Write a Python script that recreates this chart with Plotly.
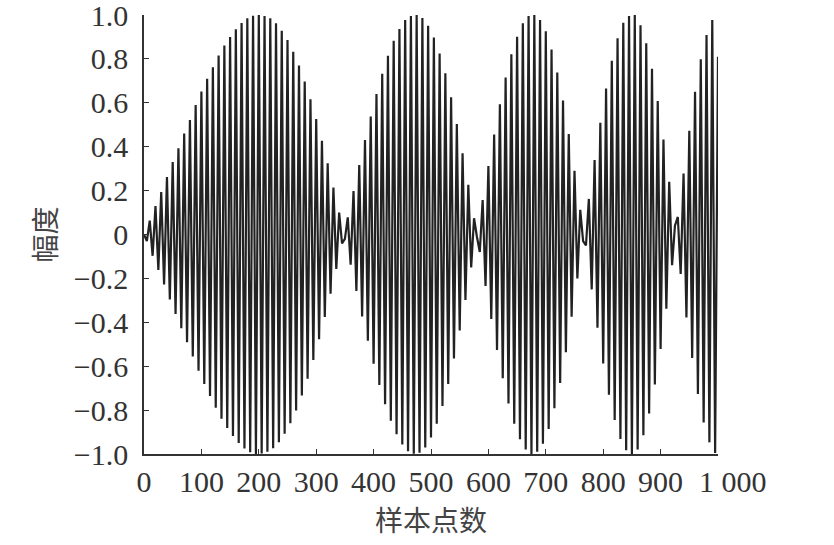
import plotly.graph_objects as go

# Signed peak/trough amplitudes, one every 5 samples
lobe1_start = 0
lobe1 = [0.0, -0.03, 0.063, -0.097, 0.13, -0.162, 0.193, -0.228, 0.262, -0.296,
         0.33, -0.362, 0.393, -0.427, 0.46, -0.491, 0.522, -0.556, 0.59, -0.621,
         0.652, -0.681, 0.71, -0.736, 0.762, -0.789, 0.816, -0.839, 0.861, -0.881,
         0.90, -0.918, 0.935, -0.95, 0.963, -0.975, 0.985, -0.992, 0.997, -1.0,
         1.0, -0.998, 0.995, -0.99, 0.985, -0.974, 0.962, -0.946, 0.928, -0.908,
         0.886, -0.86, 0.833, -0.802, 0.77, -0.734, 0.697, -0.657, 0.616, -0.572,
         0.526, -0.477, 0.427, -0.376, 0.324, -0.27, 0.214, -0.157, 0.10, -0.04,
         -0.02]
lobe2_start = 355
lobe2 = [0.078, -0.138, 0.198, -0.257, 0.316, -0.373, 0.43, -0.484, 0.537, -0.589,
         0.64, -0.686, 0.732, -0.773, 0.814, -0.849, 0.883, -0.91, 0.936, -0.957,
         0.977, -0.987, 0.995, -0.999, 1.0, -0.994, 0.986, -0.97, 0.951, -0.925,
         0.897, -0.862, 0.825, -0.781, 0.735, -0.681, 0.625, -0.565, 0.503, -0.437,
         0.37, -0.298, 0.226, -0.15, 0.074, -0.01]
lobe3_start = 585
lobe3 = [-0.08, 0.157, -0.235, 0.312, -0.385, 0.456, -0.526, 0.593, -0.655, 0.715,
         -0.77, 0.821, -0.862, 0.901, -0.933, 0.962, -0.98, 0.995, -1.0, 1.0,
         -0.99, 0.977, -0.953, 0.926, -0.886, 0.843, -0.792, 0.738, -0.676, 0.61,
         -0.536, 0.458, -0.375, 0.29, -0.2, 0.112, -0.03, -0.05]
lobe4_start = 775
lobe4 = [0.162, -0.25, 0.339, -0.425, 0.509, -0.588, 0.665, -0.73, 0.791, -0.845,
         0.894, -0.932, 0.965, -0.983, 0.995, -1.0, 1.0, -0.98, 0.953, -0.915,
         0.871, -0.815, 0.755, -0.683, 0.608, -0.522, 0.433, -0.338, 0.24, -0.14,
         0.04, 0.08]
lobe5_start = 935
lobe5 = [-0.18, 0.278, -0.378, 0.473, -0.563, 0.65, -0.727, 0.798, -0.857, 0.909,
         -0.947, 0.977, -0.995, 0.81]
step = 5

x_tickvals = [0, 100, 200, 300, 400, 500, 600, 700, 800, 900, 1000]
x_ticktext = ["0", "100", "200", "300", "400", "500", "600", "700", "800", "900", ""]
x_last_label = "1 000"
y_tickvals = [-1.0, -0.8, -0.6, -0.4, -0.2, 0, 0.2, 0.4, 0.6, 0.8, 1.0]
y_ticktext = ["\u22121.0", "\u22120.8", "\u22120.6", "\u22120.4", "\u22120.2", "0",
              "0.2", "0.4", "0.6", "0.8", "1.0"]
x_title = "样本点数"
y_title = "幅度"

xs, ys = [], []
for start, vals in [(lobe1_start, lobe1), (lobe2_start, lobe2), (lobe3_start, lobe3),
                    (lobe4_start, lobe4), (lobe5_start, lobe5)]:
    for i, v in enumerate(vals):
        xs.append(start + step * i)
        ys.append(v)

fig = go.Figure()
fig.add_trace(go.Scatter(x=xs, y=ys, mode="lines",
                         line=dict(color="#222222", width=2.2),
                         hoverinfo="skip", showlegend=False))

tick_font = dict(family="Liberation Serif, Times New Roman, serif", size=30, color="#333333")
title_font = dict(family="Noto Sans CJK SC, sans-serif", size=28, color="#444444")

fig.update_layout(
    width=834, height=545,
    margin=dict(l=144, r=116, t=15, b=91),
    paper_bgcolor="white", plot_bgcolor="white",
    showlegend=False,
)
# last x tick label sits slightly right of its tick, as in the reference
fig.add_annotation(x=x_tickvals[-1], xref="x", y=0, yref="paper",
                   text=x_last_label, showarrow=False, font=tick_font,
                   xanchor="center", yanchor="middle", xshift=15, yshift=-27)
fig.update_xaxes(
    range=[0, 1000], tickmode="array", tickvals=x_tickvals, ticktext=x_ticktext,
    ticks="inside", ticklen=5, tickwidth=1.3, tickcolor="#333333", tickangle=0,
    showline=True, linecolor="#333333", linewidth=1.6, mirror=False,
    showgrid=False, zeroline=False, tickfont=tick_font, automargin=False,
    ticklabeloverflow="allow",
    title=dict(text=x_title, font=title_font, standoff=15),
)
fig.update_yaxes(
    range=[-1, 1], tickmode="array", tickvals=y_tickvals, ticktext=y_ticktext,
    ticks="inside", ticklen=5, tickwidth=1.3, tickcolor="#333333",
    showline=True, linecolor="#333333", linewidth=1.6, mirror=False,
    showgrid=False, zeroline=False, tickfont=tick_font, automargin=False,
    ticklabelstandoff=8, ticklabeloverflow="allow",
    title=dict(text=y_title, font=title_font, standoff=9),
)

# remove the page's default 8px body margin so the figure sits at the window origin
fig.write_html("out.html", config={"displayModeBar": False},
               post_script="document.body.style.margin='0';")
